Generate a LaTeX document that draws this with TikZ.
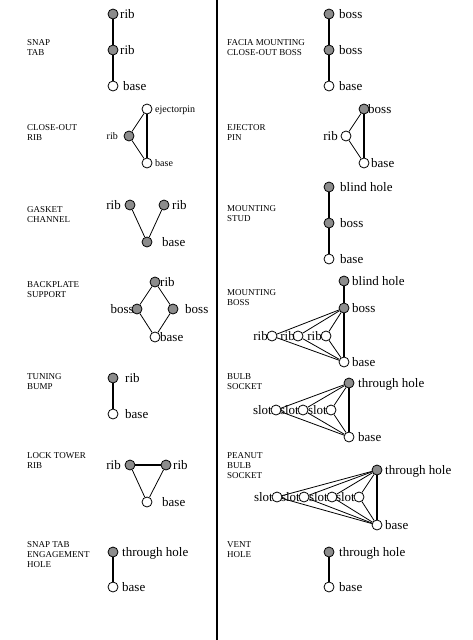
\documentclass[tikz,border=0pt]{standalone}
\usepackage{fontspec}
\setmainfont{Liberation Serif}
\tikzset{
  full/.style={circle, draw, fill=black!45, minimum size=10pt, inner sep=0pt, line width=0.8pt},
  hollow/.style={circle, draw, fill=white, minimum size=10pt, inner sep=0pt, line width=0.8pt},
  lab/.style={font=\fontsize{13}{13}\selectfont, inner sep=0pt},
  slab/.style={font=\fontsize{10}{10}\selectfont, inner sep=0pt},
  cat/.style={font=\fontsize{9}{10}\selectfont, align=left, anchor=north west, inner sep=0pt},
  thk/.style={line width=1.3pt},
  thn/.style={line width=0.8pt},
}
\begin{document}
\begin{tikzpicture}[x=1pt,y=-1pt]
\useasboundingbox (0,0) rectangle (472,640);
\coordinate (divtop) at (217,0);
\coordinate (divbot) at (217,640);
\draw[line width=1.3pt] (divtop) -- (divbot);

% ---------- category labels ----------
\node[cat] (c1) at (27,39) {SNAP\\TAB};
\node[cat] (c2) at (27,124) {CLOSE-OUT\\RIB};
\node[cat] (c3) at (27,206) {GASKET\\CHANNEL};
\node[cat] (c4) at (27,281) {BACKPLATE\\SUPPORT};
\node[cat] (c5) at (27,373) {TUNING\\BUMP};
\node[cat] (c6) at (27,452) {LOCK TOWER\\RIB};
\node[cat] (c7) at (27,541) {SNAP TAB\\ENGAGEMENT\\HOLE};
\node[cat] (d1) at (227,39) {FACIA MOUNTING\\CLOSE-OUT BOSS};
\node[cat] (d2) at (227,124) {EJECTOR\\PIN};
\node[cat] (d3) at (227,205) {MOUNTING\\STUD};
\node[cat] (d4) at (227,289) {MOUNTING\\BOSS};
\node[cat] (d5) at (227,373) {BULB\\SOCKET};
\node[cat] (d6) at (227,452) {PEANUT\\BULB\\SOCKET};
\node[cat] (d7) at (227,541) {VENT\\HOLE};

% ---------- SNAP TAB ----------
\node[full] (a1) at (113,14) {};
\node[full] (a2) at (113,50) {};
\node[hollow] (a3) at (113,86) {};
\node[lab,anchor=base west] (a1l) at (120,18) {rib};
\node[lab,anchor=base west] (a2l) at (120,54) {rib};
\node[lab,anchor=base west] (a3l) at (123,90) {base};
\draw[thk] (a1) -- (a2) -- (a3);

% ---------- CLOSE-OUT RIB ----------
\node[hollow] (b1) at (147,109) {};
\node[full] (b2) at (129,136) {};
\node[hollow] (b3) at (147,163) {};
\node[slab,anchor=base west] (b1l) at (155,112) {ejectorpin};
\node[slab,anchor=base east] (b2l) at (118,139) {rib};
\node[slab,anchor=base west] (b3l) at (155,166) {base};
\draw[thk] (b1) -- (b3);
\draw[thn] (b2) -- (b1);
\draw[thn] (b2) -- (b3);

% ---------- GASKET CHANNEL ----------
\node[full] (g1) at (130,205) {};
\node[full] (g2) at (164,205) {};
\node[full] (g3) at (147,242) {};
\node[lab,anchor=base east] (g1l) at (121,209) {rib};
\node[lab,anchor=base west] (g2l) at (172,209) {rib};
\node[lab,anchor=base west] (g3l) at (162,246) {base};
\draw[thn] (g1) -- (g3);
\draw[thn] (g2) -- (g3);

% ---------- BACKPLATE SUPPORT ----------
\node[full] (p1) at (155,282) {};
\node[full] (p2) at (137,309) {};
\node[full] (p3) at (173,309) {};
\node[hollow] (p4) at (155,337) {};
\node[lab,anchor=base west] (p1l) at (160,286) {rib};
\node[lab,anchor=base east] (p2l) at (134,313) {boss};
\node[lab,anchor=base west] (p3l) at (185,313) {boss};
\node[lab,anchor=base west] (p4l) at (160,341) {base};
\draw[thn] (p1) -- (p2) -- (p4) -- (p3) -- (p1);

% ---------- TUNING BUMP ----------
\node[full] (t1) at (113,378) {};
\node[hollow] (t2) at (113,414) {};
\node[lab,anchor=base west] (t1l) at (125,382) {rib};
\node[lab,anchor=base west] (t2l) at (125,418) {base};
\draw[thk] (t1) -- (t2);

% ---------- LOCK TOWER RIB ----------
\node[full] (l1) at (130,465) {};
\node[full] (l2) at (166,465) {};
\node[hollow] (l3) at (147,502) {};
\node[lab,anchor=base east] (l1l) at (121,469) {rib};
\node[lab,anchor=base west] (l2l) at (173,469) {rib};
\node[lab,anchor=base west] (l3l) at (162,506) {base};
\draw[thk] (l1) -- (l2);
\draw[thn] (l1) -- (l3);
\draw[thn] (l2) -- (l3);

% ---------- SNAP TAB ENGAGEMENT HOLE ----------
\node[full] (e1) at (113,552) {};
\node[hollow] (e2) at (113,587) {};
\node[lab,anchor=base west] (e1l) at (122,556) {through hole};
\node[lab,anchor=base west] (e2l) at (122,591) {base};
\draw[thk] (e1) -- (e2);

% ---------- FACIA MOUNTING CLOSE-OUT BOSS ----------
\node[full] (f1) at (329,14) {};
\node[full] (f2) at (329,50) {};
\node[hollow] (f3) at (329,86) {};
\node[lab,anchor=base west] (f1l) at (339,18) {boss};
\node[lab,anchor=base west] (f2l) at (339,54) {boss};
\node[lab,anchor=base west] (f3l) at (339,90) {base};
\draw[thk] (f1) -- (f2) -- (f3);

% ---------- EJECTOR PIN ----------
\node[full] (j1) at (364,109) {};
\node[hollow] (j2) at (346,136) {};
\node[hollow] (j3) at (364,163) {};
\node[lab,anchor=base west] (j1l) at (368,113) {boss};
\node[lab,anchor=base east] (j2l) at (338,140) {rib};
\node[lab,anchor=base west] (j3l) at (371,167) {base};
\draw[thk] (j1) -- (j3);
\draw[thn] (j2) -- (j1);
\draw[thn] (j2) -- (j3);

% ---------- MOUNTING STUD ----------
\node[full] (m1) at (329,187) {};
\node[full] (m2) at (329,223) {};
\node[hollow] (m3) at (329,259) {};
\node[lab,anchor=base west] (m1l) at (340,191) {blind hole};
\node[lab,anchor=base west] (m2l) at (340,227) {boss};
\node[lab,anchor=base west] (m3l) at (340,263) {base};
\draw[thk] (m1) -- (m2) -- (m3);

% ---------- MOUNTING BOSS ----------
\node[full] (n1) at (344,281) {};
\node[full] (n2) at (344,308) {};
\node[hollow] (r1) at (272,336) {};
\node[hollow] (r2) at (298,336) {};
\node[hollow] (r3) at (326,336) {};
\node[hollow] (n3) at (344,362) {};
\node[lab,anchor=base west] (n1l) at (352,285) {blind hole};
\node[lab,anchor=base west] (n2l) at (352,312) {boss};
\node[lab,anchor=base west] (n3l) at (352,366) {base};
\node[lab,anchor=base east] (r1l) at (268,340) {rib};
\node[lab,anchor=base east] (r2l) at (295,340) {rib};
\node[lab,anchor=base east] (r3l) at (322,340) {rib};
\draw[thk] (n1) -- (n2) -- (n3);
\foreach \r in {r1,r2,r3} {
  \draw[thn] (n2) -- (\r);
  \draw[thn] (\r) -- (n3);
}

% ---------- BULB SOCKET ----------
\node[full] (s0) at (349,383) {};
\node[hollow] (s1) at (276,410) {};
\node[hollow] (s2) at (303,410) {};
\node[hollow] (s3) at (331,410) {};
\node[hollow] (s4) at (349,437) {};
\node[lab,anchor=base west] (s0l) at (358,387) {through hole};
\node[lab,anchor=base west] (s4l) at (358,441) {base};
\node[lab,anchor=base east] (s1l) at (272,414) {slot};
\node[lab,anchor=base east] (s2l) at (299,414) {slot};
\node[lab,anchor=base east] (s3l) at (327,414) {slot};
\draw[thk] (s0) -- (s4);
\foreach \r in {s1,s2,s3} {
  \draw[thn] (s0) -- (\r);
  \draw[thn] (\r) -- (s4);
}

% ---------- PEANUT BULB SOCKET ----------
\node[full] (q0) at (377,470) {};
\node[hollow] (q1) at (277,497) {};
\node[hollow] (q2) at (304,497) {};
\node[hollow] (q3) at (332,497) {};
\node[hollow] (q4) at (359,497) {};
\node[hollow] (q5) at (377,525) {};
\node[lab,anchor=base west] (q0l) at (385,474) {through hole};
\node[lab,anchor=base west] (q5l) at (385,529) {base};
\node[lab,anchor=base east] (q1l) at (273,501) {slot};
\node[lab,anchor=base east] (q2l) at (300,501) {slot};
\node[lab,anchor=base east] (q3l) at (328,501) {slot};
\node[lab,anchor=base east] (q4l) at (355,501) {slot};
\draw[thk] (q0) -- (q5);
\foreach \r in {q1,q2,q3,q4} {
  \draw[thn] (q0) -- (\r);
  \draw[thn] (\r) -- (q5);
}

% ---------- VENT HOLE ----------
\node[full] (v1) at (329,552) {};
\node[hollow] (v2) at (329,587) {};
\node[lab,anchor=base west] (v1l) at (339,556) {through hole};
\node[lab,anchor=base west] (v2l) at (339,591) {base};
\draw[thk] (v1) -- (v2);
\end{tikzpicture}
\end{document}
